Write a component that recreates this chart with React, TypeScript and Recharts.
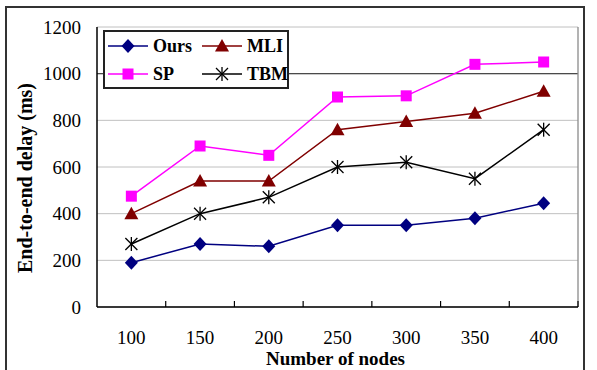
import React from 'react';
import { LineChart, Line, XAxis, YAxis, CartesianGrid, Legend, ReferenceLine } from 'recharts';

const nodes = [100, 150, 200, 250, 300, 350, 400];
const ours = [190, 270, 260, 350, 350, 380, 445];
const mli = [400, 540, 540, 760, 795, 830, 925];
const sp = [475, 690, 650, 900, 905, 1040, 1050];
const tbm = [270, 400, 470, 600, 620, 550, 760];
const yTicks = [0, 200, 400, 600, 800, 1000, 1200];

const W = 597;
const H = 370;
const MARGIN = { top: 27, right: 19, left: 0, bottom: 0 };
const Y_AXIS_W = 97;
const X_AXIS_H = 63;
const X_DOMAIN: [number, number] = [75, 425];
const PLOT_W = W - MARGIN.right - Y_AXIS_W;
const HALF_BAND = (25 / (X_DOMAIN[1] - X_DOMAIN[0])) * PLOT_W;

const FONT = '"Liberation Serif", "Times New Roman", serif';

const data = nodes.map((n, i) => ({ n, ours: ours[i], mli: mli[i], sp: sp[i], tbm: tbm[i] }));

const NAVY = '#000080';
const MAROON = '#800000';
const MAGENTA = '#ff00ff';
const BLACK = '#000000';

type MarkProps = { cx: number; cy: number; color: string };

const Diamond = ({ cx, cy, color }: MarkProps) => (
  <polygon points={`${cx},${cy - 7} ${cx + 6.5},${cy} ${cx},${cy + 7} ${cx - 6.5},${cy}`} fill={color} />
);
const Triangle = ({ cx, cy, color }: MarkProps) => (
  <polygon points={`${cx},${cy - 7} ${cx + 7},${cy + 5.5} ${cx - 7},${cy + 5.5}`} fill={color} />
);
const Square = ({ cx, cy, color }: MarkProps) => (
  <rect x={cx - 5.5} y={cy - 5.5} width={11} height={11} fill={color} />
);
const Star = ({ cx, cy, color }: MarkProps) => (
  <g stroke={color} strokeWidth={1.3}>
    <line x1={cx - 6} y1={cy - 6} x2={cx + 6} y2={cy + 6} />
    <line x1={cx - 6} y1={cy + 6} x2={cx + 6} y2={cy - 6} />
    <line x1={cx} y1={cy - 7} x2={cx} y2={cy + 7} />
  </g>
);

const dotOf = (Mark: React.FC<MarkProps>, color: string) => (p: any) =>
  <Mark key={`${p.dataKey}-${p.index}`} cx={p.cx} cy={p.cy} color={color} />;

const series = [
  { key: 'ours', name: 'Ours', color: NAVY, mark: Diamond },
  { key: 'mli', name: 'MLI', color: MAROON, mark: Triangle },
  { key: 'sp', name: 'SP', color: MAGENTA, mark: Square },
  { key: 'tbm', name: 'TBM', color: BLACK, mark: Star },
];

// x ticks: value label under each node count, small inward tick at the band edge
const NodeTick = (props: any) => {
  const { x, y, payload } = props;
  const axisY = y - 8;
  return (
    <g>
      <line x1={x + HALF_BAND} y1={axisY} x2={x + HALF_BAND} y2={axisY - 6} stroke="#000" strokeWidth={1.2} />
      <text x={x} y={axisY + 37} textAnchor="middle" fontFamily={FONT} fontSize={19} fill="#000">
        {payload.value}
      </text>
    </g>
  );
};

const LegendBox = () => {
  const cells = [
    { s: series[0], x: 5, y: 16 },
    { s: series[1], x: 99, y: 16 },
    { s: series[2], x: 5, y: 44 },
    { s: series[3], x: 99, y: 44 },
  ];
  return (
    <svg width={186} height={59} style={{ display: 'block' }}>
      <rect x={1} y={1} width={184} height={57} fill="#fff" stroke="#222" strokeWidth={2} />
      {cells.map(({ s, x, y }) => {
        const Mark = s.mark;
        return (
          <g key={s.key}>
            <line x1={x} y1={y} x2={x + 40} y2={y} stroke={s.color} strokeWidth={1.5} />
            <Mark cx={x + 20} cy={y} color={s.color} />
            <text x={x + 45} y={y + 6} fontFamily={FONT} fontWeight="bold" fontSize={18} fill="#000">
              {s.name}
            </text>
          </g>
        );
      })}
    </svg>
  );
};

export default function App() {
  return (
    <div style={{ position: 'absolute', left: 0, top: 0, width: W, height: H, overflow: 'hidden', background: '#fff' }}>
      <div
        style={{
          position: 'absolute',
          left: 5,
          top: 6,
          width: 580,
          height: 380,
          border: '2px solid #333',
          boxSizing: 'border-box',
        }}
      />
      <LineChart width={W} height={H} data={data} margin={MARGIN} style={{ position: 'absolute', left: 0, top: 0 }}>
        <CartesianGrid horizontal vertical={false} stroke="#c0c0c0" strokeWidth={1} />
        <ReferenceLine y={1000} stroke="#4a4a4a" strokeWidth={1.3} />
        <ReferenceLine x={X_DOMAIN[1]} stroke="#8a8a8a" strokeWidth={1.3} />
        <XAxis
          dataKey="n"
          type="number"
          domain={X_DOMAIN}
          ticks={nodes}
          height={X_AXIS_H}
          tickLine={false}
          axisLine={{ stroke: '#000', strokeWidth: 1.5 }}
          tick={<NodeTick />}
          interval={0}
          label={{
            content: (p: any) => {
              const vb = p.viewBox;
              return (
                <text x={vb.x + vb.width / 2 - 2} y={vb.y + 58} textAnchor="middle" fontFamily={FONT} fontWeight="bold" fontSize={19} fill="#000">
                  Number of nodes
                </text>
              );
            },
          }}
        />
        <YAxis
          width={Y_AXIS_W}
          domain={[0, 1200]}
          ticks={yTicks}
          interval={0}
          tickLine={false}
          tickMargin={10}
          axisLine={{ stroke: '#000', strokeWidth: 1.5 }}
          tick={{ fontFamily: FONT, fontSize: 19, fill: '#000' }}
          label={{
            content: (p: any) => {
              const vb = p.viewBox;
              const cx = 32;
              const cy = vb.y + vb.height / 2 + 11;
              return (
                <text transform={`translate(${cx},${cy}) rotate(-90)`} textAnchor="middle" fontFamily={FONT} fontWeight="bold" fontSize={20} fill="#000">
                  End-to-end delay (ms)
                </text>
              );
            },
          }}
        />
        <Legend
          layout="vertical"
          align="center"
          verticalAlign="middle"
          content={<LegendBox />}
          wrapperStyle={{ left: 103, top: 30, width: 186, height: 59 }}
        />
        {series.map((s) => (
          <Line
            key={s.key}
            dataKey={s.key}
            name={s.name}
            stroke={s.color}
            strokeWidth={1.5}
            dot={dotOf(s.mark, s.color)}
            activeDot={false}
            isAnimationActive={false}
          />
        ))}
      </LineChart>
    </div>
  );
}
